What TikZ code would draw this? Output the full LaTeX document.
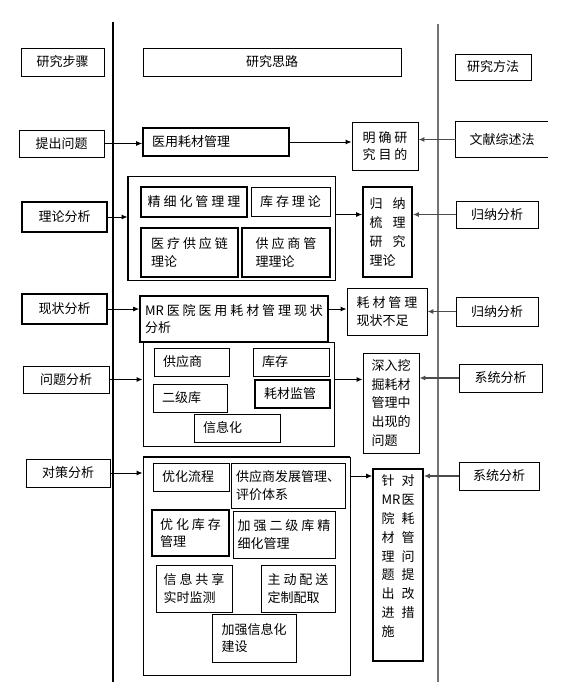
\documentclass[tikz,border=0pt]{standalone}
\usepackage{fontspec}
\setmainfont{Noto Sans CJK SC}
\usepackage{tikz}
\usetikzlibrary{arrows.meta}

\tikzset{
	cell/.style={draw=black, line width=0.9pt, align=left, inner sep=3pt, font={\fontsize{13}{17.5}\selectfont}},
	lcell/.style={cell, inner xsep=9pt},
	heavy/.style={line width=1.6pt},
	tall/.style={font={\fontsize{13}{18.8}\selectfont}},
	arr/.style={-{Latex[length=6pt,width=5pt]}, line width=1pt},
	back/.style={arr, draw=black!70, line width=1.3pt},
}
\newcommand{\duo}[3][20pt]{\makebox[#1][l]{#2}#3}

\begin{document}
\begin{tikzpicture}[x=1pt, y=-1pt]
				\useasboundingbox (0,0) rectangle (567,682);
				% lanes
				\draw[line width=1.4pt] (113,22) -- (113,682);
				\draw[line width=1.4pt, black!55] (438,24) -- (438,682);
				% headers
				\node[cell, minimum width=83pt,  minimum height=28pt] (hdr0) at (62.5,62) {研究步骤};
				\node[cell, minimum width=258pt, minimum height=28pt] (hdr1) at (272,62)  {研究思路};
				\node[cell, minimum width=76pt,  minimum height=26pt] (hdr2) at (493,67)  {研究方法};
				% steps
				\node[cell,        minimum width=85pt, minimum height=27pt] (step1) at (61.5,143.5) {提出问题};
				\node[cell, heavy, minimum width=85pt, minimum height=30pt] (step2) at (64.5,217)   {理论分析};
				\node[cell, heavy, minimum width=85pt, minimum height=30pt] (step3) at (64.5,309)   {现状分析};
				\node[cell,        minimum width=86pt, minimum height=27pt] (step4) at (66,379.5)   {问题分析};
				\node[cell,        minimum width=84pt, minimum height=28pt] (step5) at (68,473)     {对策分析};
				% methods
				\node[cell, draw=none, minimum width=92pt, minimum height=35pt] (meth1) at (502,139.5) {文献综述法};
				\draw[line width=0.9pt] (meth1.north east) -- (meth1.north west) -- (meth1.south west) -- (meth1.south east);
				\node[cell, minimum width=82pt, minimum height=27pt] (meth2) at (497,214.5) {归纳分析};
				\node[cell, minimum width=82pt, minimum height=29pt] (meth3) at (497,311.5) {归纳分析};
				\node[cell, minimum width=83pt, minimum height=28pt] (meth4) at (500.5,378) {系统分析};
				\node[cell, minimum width=80pt, minimum height=28pt] (meth5) at (499,476)   {系统分析};
				% row 1
				\node[lcell, heavy, text width=128pt, minimum height=28pt] (idea1) at (216,142) {医用耗材管理};
				\node[cell, minimum width=66pt, minimum height=48pt] (goal1) at (385,146) {明 确 研\\究 目 的};
				% row 2
				\node[cell, minimum width=207pt, minimum height=104pt] (grp1) at (231.5,228) {};
				\draw[heavy] (grp1.north west) -- (grp1.south west) -- (grp1.south east);
				\node[cell, heavy, minimum width=106pt, minimum height=30pt] (sub11) at (194,202)     {精 细 化 管 理 理};
				\node[cell,        minimum width=79pt,  minimum height=29pt] (sub12) at (290.5,201.5) {库 存 理 论};
				\node[cell, heavy, minimum width=97pt,  minimum height=49pt] (sub13) at (189.5,252.5) {医 疗 供 应 链\\理论};
				\node[cell, heavy, minimum width=88pt,  minimum height=49pt] (sub14) at (286,252.5)   {供 应 商 管\\理理论};
				\node[cell, heavy, tall, minimum width=49pt, minimum height=90pt] (goal2) at (387.5,232)
					{\duo[23pt]{归}{纳}\\\duo[23pt]{梳}{理}\\\duo[23pt]{研}{究}\\理论};
				% row 3
				\node[cell, heavy, minimum width=188pt, minimum height=46pt] (idea2) at (234,319) {MR 医 院 医 用 耗 材 管 理 现 状\\分析};
				\node[cell, minimum width=80pt, minimum height=47pt] (goal3) at (387,311.5) {耗 材 管 理\\现状不足};
				% row 4
				\node[cell, minimum width=191pt, minimum height=104pt] (grp2) at (238.5,394) {};
				\draw[heavy] (grp2.south west) -- (grp2.south east);
				\node[lcell,        text width=57pt, minimum height=28pt] (sub21) at (191.5,362) {供应商};
				\node[lcell,        text width=58pt, minimum height=28pt] (sub22) at (291,362)   {库存};
				\node[lcell,        text width=56pt, minimum height=28pt] (sub23) at (190,398)   {二级库};
				\node[lcell, heavy, text width=57pt, minimum height=28pt] (sub24) at (292.5,394) {耗材监管};
				\node[lcell,        text width=68pt, minimum height=28pt] (sub25) at (237,428)   {信息化};
				\node[cell, tall, minimum width=56pt, minimum height=100pt] (goal3b) at (391,403)
					{深入挖\\掘耗材\\管理中\\出现的\\问题};
				% row 5
				\node[cell, minimum width=207pt, minimum height=218pt] (grp3) at (246.5,566) {};
				\draw[heavy] (grp3.north west) -- (grp3.north east);
				\draw[heavy] (grp3.south west) -- (grp3.south east);
				\node[lcell,       text width=58pt, minimum height=28pt] (sub31) at (191,477) {优化流程};
				\node[cell,        minimum width=114pt, minimum height=45pt] (sub32) at (288,485.5) {供应商发展管理、\\评价体系};
				\node[cell, heavy, minimum width=77pt,  minimum height=46pt] (sub33) at (190.5,533) {优 化 库 存\\管理};
				\node[cell,        minimum width=102pt, minimum height=47pt] (sub34) at (284,534.5) {加 强 二 级 库 精\\细化管理};
				\node[cell,        minimum width=76pt,  minimum height=47pt] (sub35) at (194,588.5) {信 息 共 享\\实时监测};
				\node[cell,        minimum width=74pt,  minimum height=47pt] (sub36) at (298,588.5) {主 动 配 送\\定制配取};
				\node[cell,        minimum width=84pt,  minimum height=48pt] (sub37) at (254,638)   {加强信息化\\建设};
				\node[cell, heavy, tall, minimum width=50pt, minimum height=192pt] (goal4) at (398,565)
					{\duo{针}{对}\\\duo{MR}{医}\\\duo{院}{耗}\\\duo{材}{管}\\\duo{理}{问}\\\duo{题}{提}\\\duo{出}{改}\\\duo{进}{措}\\施\\~};
				% connectors
				\draw[arr]  (step1.east) -- (step1.east -| idea1.west);
				\draw[arr]  (idea1.east) -- (idea1.east -| goal1.west);
				\draw[back] (meth1.west) -- (meth1.west -| goal1.east);
				\draw[arr]  (step2.east) -- (step2.east -| grp1.west);
				\draw[arr]  (meth2.west -| grp1.east) -- (meth2.west -| goal2.west);
				\draw[back] (meth2.west) -- (meth2.west -| goal2.east);
				\draw[arr]  (step3.east) -- (step3.east -| idea2.west);
				\draw[arr]  (step3.east -| idea2.east) -- (step3.east -| goal3.west);
				\draw[back] (meth3.west) -- (meth3.west -| goal3.east);
				\draw[arr]  (step4.east) -- (step4.east -| grp2.west);
				\draw[arr]  (step4.east -| grp2.east) -- (step4.east -| goal3b.west);
				\draw[back] (meth4.west) -- (meth4.west -| goal3b.east);
				\draw[arr]  (step5.east) -- (step5.east -| grp3.west);
				\draw[arr]  (meth5.west -| grp3.east) -- (meth5.west -| goal4.west);
				\draw[back] (meth5.west) -- (meth5.west -| goal4.east);
\end{tikzpicture}
\end{document}
